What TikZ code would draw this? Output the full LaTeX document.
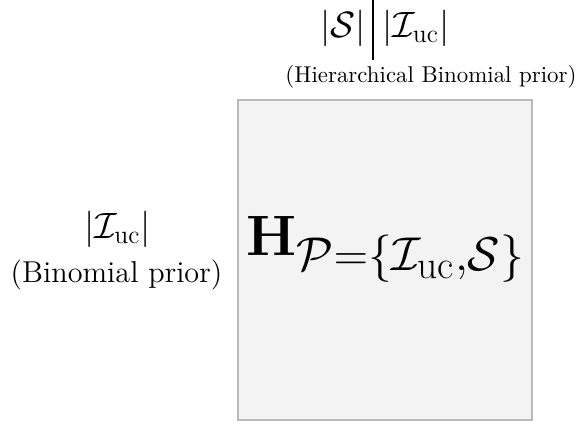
\documentclass[tikz,border=0pt]{standalone}
\usepackage{fix-cm}
\usepackage{amsmath}
\usepackage{amssymb}
\usepackage{xcolor}
\usepackage{tikz}
\usetikzlibrary{positioning}

\definecolor{boxfill}{RGB}{243,243,244}
\definecolor{boxline}{RGB}{186,186,188}

\newcommand{\Iuc}{\mathcal{I}_{\text{uc}}}

\tikzset{
    priorbox/.style={draw=boxline, fill=boxfill, line width=0.7pt,
                     minimum width=128.5pt, minimum height=139.8pt, inner sep=0pt},
    lbl/.style={inner sep=0pt, anchor=base},
    mathlbl/.style={lbl, font=\fontsize{16}{19}\selectfont}
}

\begin{document}
\begin{tikzpicture}[x=0.437pt, y=-0.437pt]
    \useasboundingbox (0,0) rectangle (582,423);
    \node[priorbox] (box) at (385,260) {};
    \node[lbl, font=\Huge] (H) at (386,255)
        {$\mathbf{H}_{\mathcal{P}=\{\Iuc,\mathcal{S}\}}$};
    \node[mathlbl] (sz) at (343,37) {$|\mathcal{S}|$};
    \node[mathlbl] (iuc) at (416,37) {$|\Iuc|$};
    \coordinate (bartop) at (373,0);
    \coordinate (barbot) at (373,60);
    \draw[line width=0.5pt] (bartop) -- (barbot);
    \node[lbl] (hier) at (431,82) {(Hierarchical Binomial prior)};
    \node[mathlbl] (iucl) at (117.5,238) {$|\Iuc|$};
    \node[lbl, font=\fontsize{13.2}{16}\selectfont] (binom) at (116.5,282) {(Binomial prior)};
\end{tikzpicture}
\end{document}
